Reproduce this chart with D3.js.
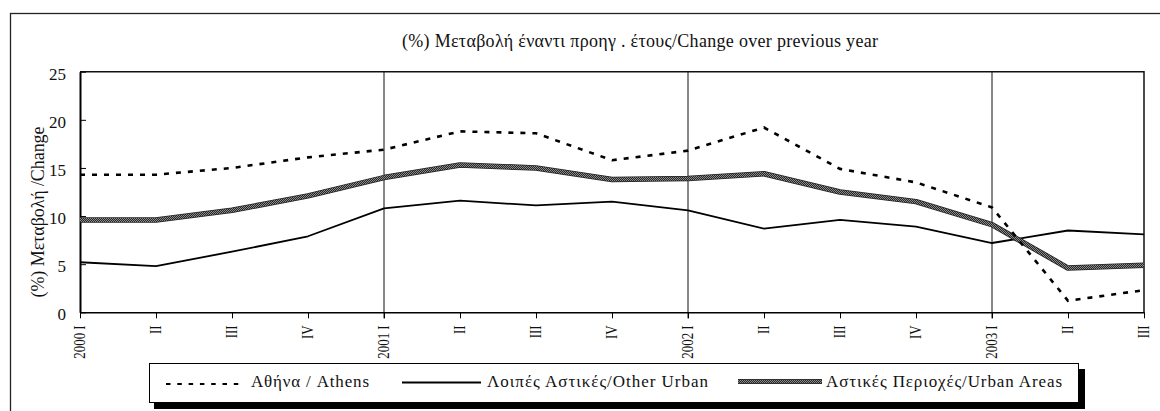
<!DOCTYPE html>
<html>
<head>
<meta charset="utf-8">
<script src="https://cdn.jsdelivr.net/npm/d3@7"></script>
<style>
  html, body { margin: 0; padding: 0; background: #fff; }
  svg { display: block; font-family: "Liberation Serif", "Times New Roman", serif; }
</style>
</head>
<body>
<svg id="chart" width="1160" height="411"></svg>
<script>
// Quarterly labels (rotated on the x axis)
const quarterLabels = ["2000 I", "II", "III", "IV", "2001 I", "II", "III", "IV",
                       "2002 I", "II", "III", "IV", "2003 I", "II", "III"];
// Year-start quarters get a vertical rule
const yearStarts = [4, 8, 12];
const yTicks = [0, 5, 10, 15, 20, 25];

// % change over previous year
const athens     = [14.3, 14.3, 15.0, 16.1, 16.9, 18.8, 18.6, 15.8, 16.8, 19.2, 14.9, 13.5, 10.9, 1.2, 2.3];
const otherUrban = [5.2, 4.8, 6.3, 7.9, 10.8, 11.6, 11.1, 11.5, 10.6, 8.7, 9.6, 8.9, 7.2, 8.5, 8.1];
const urbanAreas = [9.6, 9.6, 10.6, 12.1, 14.0, 15.3, 15.0, 13.8, 13.9, 14.4, 12.5, 11.5, 9.1, 4.6, 4.9];

const seriesNames = ["Αθήνα / Athens", "Λοιπές Αστικές/Other Urban", "Αστικές Περιοχές/Urban Areas"];
const titleText = "(%) Μεταβολή έναντι προηγ . έτους/Change over previous year";
const yAxisTitle = "(%) Μεταβολή /Change";

const svg = d3.select("#chart");
const serif = "Liberation Serif, Times New Roman, serif";

// textured stroke for the Urban Areas series
const defs = svg.append("defs");
const pat = defs.append("pattern")
  .attr("id", "checker").attr("patternUnits", "userSpaceOnUse")
  .attr("width", 2).attr("height", 2);
pat.append("rect").attr("width", 2).attr("height", 2).attr("fill", "#262626");
pat.append("rect").attr("x", 0).attr("y", 0).attr("width", 1).attr("height", 1).attr("fill", "#8c8c8c");
pat.append("rect").attr("x", 1).attr("y", 1).attr("width", 1).attr("height", 1).attr("fill", "#8c8c8c");

// outer frame (runs off the right and bottom of the canvas)
svg.append("rect")
  .attr("x", 10.5).attr("y", 13.5).attr("width", 1300).attr("height", 600)
  .attr("fill", "none").attr("stroke", "#222").attr("stroke-width", 1.3);

const plot = { left: 80, right: 1144, top: 71.7, bottom: 312.3 };

const x = d3.scalePoint().domain(d3.range(quarterLabels.length)).range([plot.left, plot.right]);
const y = d3.scaleLinear().domain([0, 25]).range([plot.bottom, plot.top]);

// title
svg.append("text")
  .attr("x", 402).attr("y", 46.5)
  .attr("font-family", serif).attr("font-size", 18)
  .attr("textLength", 476).attr("lengthAdjust", "spacing")
  .attr("fill", "#111")
  .text(titleText);

// plot border (top and right)
svg.append("path")
  .attr("d", `M${plot.left},${plot.top}H${plot.right}V${plot.bottom}`)
  .attr("fill", "none").attr("stroke", "#111").attr("stroke-width", 1.5);

// year rules
svg.append("g").selectAll("line").data(yearStarts).join("line")
  .attr("x1", d => x(d)).attr("x2", d => x(d))
  .attr("y1", plot.top).attr("y2", plot.bottom + 6)
  .attr("stroke", "#111").attr("stroke-width", 1);

// y axis
const gy = svg.append("g")
  .attr("transform", `translate(${plot.left},0)`)
  .call(d3.axisLeft(y).tickValues(yTicks).tickSizeInner(-6).tickSizeOuter(0).tickPadding(14));
gy.attr("font-family", serif);
gy.select(".domain").attr("stroke", "#000").attr("stroke-width", 2);
gy.selectAll(".tick line").attr("stroke", "#000").attr("stroke-width", 1);
gy.selectAll(".tick text")
  .attr("font-family", serif).attr("font-size", 17)
  .attr("fill", "#111").attr("dy", "0.45em");

// x axis
const gx = svg.append("g")
  .attr("transform", `translate(0,${plot.bottom})`)
  .call(d3.axisBottom(x).tickFormat(i => quarterLabels[i]).tickSizeInner(6).tickSizeOuter(0));
gx.attr("font-family", serif);
gx.select(".domain").attr("stroke", "#000").attr("stroke-width", 1.5);
gx.selectAll(".tick line").attr("stroke", "#000").attr("stroke-width", 1);
gx.selectAll(".tick text")
  .attr("font-family", serif).attr("font-size", 13)
  .attr("fill", "#111")
  .attr("x", 0).attr("y", 0).attr("dy", "0.33em")
  .attr("text-anchor", "end")
  .attr("transform", "translate(-1,13) rotate(-90) scale(1,1.25)");

// y axis title
svg.append("text")
  .attr("transform", `translate(44,212) rotate(-90)`)
  .attr("text-anchor", "middle")
  .attr("font-family", serif).attr("font-size", 18).attr("fill", "#111")
  .attr("textLength", 171).attr("lengthAdjust", "spacing")
  .text(yAxisTitle);

const line = d3.line().x((d, i) => x(i)).y(d => y(d));

// series
svg.append("path").datum(otherUrban)
  .attr("d", line).attr("fill", "none")
  .attr("stroke", "#000").attr("stroke-width", 1.8).attr("stroke-linejoin", "round");

svg.append("path").datum(urbanAreas)
  .attr("d", line).attr("fill", "none")
  .attr("stroke", "#222").attr("stroke-width", 5.5).attr("stroke-linejoin", "round");
svg.append("path").datum(urbanAreas)
  .attr("d", line).attr("fill", "none")
  .attr("stroke", "url(#checker)").attr("stroke-width", 4).attr("stroke-linejoin", "round");

svg.append("path").datum(athens)
  .attr("d", line).attr("fill", "none")
  .attr("stroke", "#000").attr("stroke-width", 2.6).attr("stroke-dasharray", "5,7");

// legend
const lg = svg.append("g").attr("font-family", serif);
lg.append("rect").attr("x", 154).attr("y", 369).attr("width", 931).attr("height", 40).attr("fill", "#000");
lg.append("rect").attr("x", 149.5).attr("y", 363.5).attr("width", 929).attr("height", 39)
  .attr("fill", "#fff").attr("stroke", "#000").attr("stroke-width", 1);

const sampleY = 382.5;
const legendItems = [
  { x1: 166, x2: 243, tx: 251, tw: 118, name: seriesNames[0], kind: "dash" },
  { x1: 402, x2: 481, tx: 487, tw: 221, name: seriesNames[1], kind: "solid" },
  { x1: 738, x2: 822, tx: 826, tw: 236, name: seriesNames[2], kind: "texture" }
];
legendItems.forEach(it => {
  if (it.kind === "dash") {
    lg.append("line").attr("x1", it.x1).attr("x2", it.x2).attr("y1", sampleY + 1.5).attr("y2", sampleY + 1.5)
      .attr("stroke", "#000").attr("stroke-width", 2).attr("stroke-dasharray", "4.5,6.8");
  } else if (it.kind === "solid") {
    lg.append("line").attr("x1", it.x1).attr("x2", it.x2).attr("y1", sampleY).attr("y2", sampleY)
      .attr("stroke", "#000").attr("stroke-width", 1.8);
  } else {
    lg.append("line").attr("x1", it.x1).attr("x2", it.x2).attr("y1", sampleY - 1).attr("y2", sampleY - 1)
      .attr("stroke", "#222").attr("stroke-width", 5);
    lg.append("line").attr("x1", it.x1).attr("x2", it.x2).attr("y1", sampleY - 1).attr("y2", sampleY - 1)
      .attr("stroke", "url(#checker)").attr("stroke-width", 3.5);
  }
  lg.append("text").attr("x", it.tx).attr("y", 387)
    .attr("font-family", serif).attr("font-size", 17).attr("fill", "#111")
    .attr("textLength", it.tw).attr("lengthAdjust", "spacing")
    .text(it.name);
});
</script>
</body>
</html>
